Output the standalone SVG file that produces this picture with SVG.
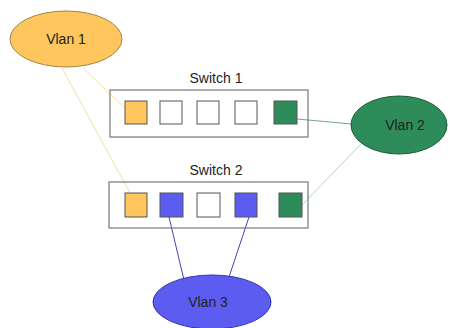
<svg xmlns="http://www.w3.org/2000/svg" width="450" height="328" viewBox="0 0 450 328">
<style>
text{font-family:"Liberation Sans",Arial,sans-serif;font-size:14px;fill:#222;text-anchor:middle}
.sw{fill:none;stroke:#777;stroke-width:1.2}
.p{stroke:#555;stroke-width:1}
.o{fill:#fec65c}
.w{fill:#fff}
.g{fill:#2e8b5a}
.b{fill:#5c5cf0}
</style>
<rect width="450" height="328" fill="#fff"/>
<g id="connectors" fill="none" stroke-width="1">
<line x1="83" y1="68" x2="127" y2="110" stroke="#f0e0a0"/>
<line x1="62" y1="68" x2="130" y2="193" stroke="#f0e0a0"/>
<line x1="297" y1="119" x2="352" y2="124" stroke="#6aa898"/>
<line x1="302" y1="205" x2="363" y2="142" stroke="#b2d4ca"/>
<line x1="169" y1="217" x2="184" y2="280" stroke="#4545a8"/>
<line x1="249" y1="217" x2="228" y2="280" stroke="#4545a8"/>
</g>
<g id="vlan1">
<ellipse cx="66" cy="39" rx="56" ry="28" fill="#fec65c" stroke="#a08448"/>
<text x="66" y="44">Vlan 1</text>
</g>
<g id="switch1">
<text x="216" y="83">Switch 1</text>
<rect class="sw" x="110" y="90" width="198" height="47"/>
<rect class="p o" x="125" y="101" width="22" height="23"/>
<rect class="p w" x="160" y="101" width="22" height="23"/>
<rect class="p w" x="197" y="101" width="22" height="23"/>
<rect class="p w" x="235" y="101" width="22" height="23"/>
<rect class="p g" x="274" y="101" width="23" height="23"/>
</g>
<g id="switch2">
<text x="216" y="175">Switch 2</text>
<rect class="sw" x="109" y="182" width="199" height="46"/>
<rect class="p o" x="125" y="193" width="22" height="24"/>
<rect class="p b" x="160" y="193" width="23" height="24"/>
<rect class="p w" x="197" y="193" width="23" height="24"/>
<rect class="p b" x="235" y="193" width="22" height="24"/>
<rect class="p g" x="279" y="193" width="23" height="24"/>
</g>
<g id="vlan2">
<ellipse cx="399" cy="125" rx="48" ry="29" fill="#2e8b5a" stroke="#1e5a3c"/>
<text x="405" y="130">Vlan 2</text>
</g>
<g id="vlan3">
<ellipse cx="212" cy="302" rx="59" ry="27" fill="#5c5cf0" stroke="#3535a8"/>
<text x="208" y="307">Vlan 3</text>
</g>
</svg>
